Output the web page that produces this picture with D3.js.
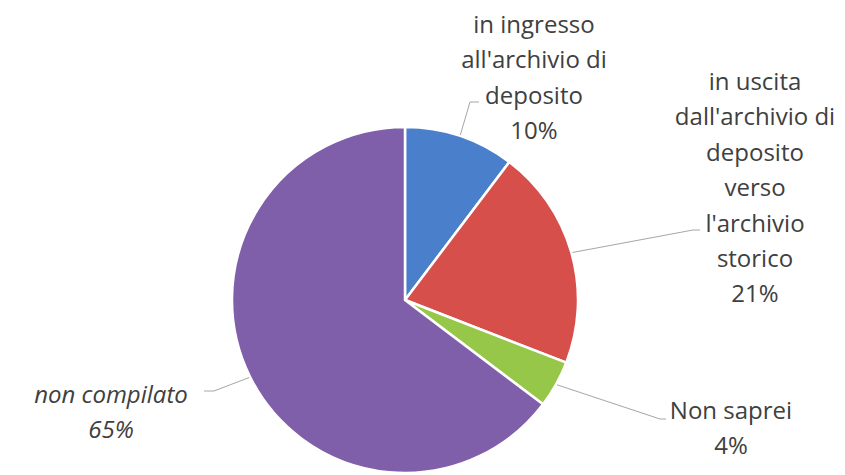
<!DOCTYPE html>
<html><head><meta charset="utf-8">
<script src="https://cdn.jsdelivr.net/npm/d3@7/dist/d3.min.js"></script>
<style>html,body{margin:0;padding:0;background:#fff;}svg{display:block;}</style>
</head><body>
<svg id="chart" width="845" height="475"></svg>
<script>
// Data
const categories = ["in ingresso all'archivio di deposito", "in uscita dall'archivio di deposito verso l'archivio storico", "Non saprei", "non compilato"];
const labelLines = [
  ["in ingresso", "all'archivio di", "deposito"],
  ["in uscita", "dall'archivio di", "deposito", "verso", "l'archivio", "storico"],
  ["Non saprei"],
  ["non compilato"]
];
const values = [10.3, 20.6, 4.4, 64.7];
const colors = ["#4a7fcb", "#d64f4b", "#97c748", "#7f5fa9"];

// Layout (label anchor positions and leader elbows)
const labelLayout = [
  {x: 534, y: 33, elbow: [470, 102], end: [479, 102], italic: false},
  {x: 755, y: 90, elbow: [693, 230], end: [700, 230], italic: false},
  {x: 731, y: 419, elbow: [660, 419], end: [666, 419], italic: false},
  {x: 111, y: 403, elbow: [214, 391], end: [204, 391], italic: true}
];

const svg = d3.select("#chart");
const cx = 405, cy = 300, r = 173;
const lineH = 35.4;

const pie = d3.pie().sort(null).value(d => d).startAngle(0).endAngle(2 * Math.PI);
const arcs = pie(values);
const arc = d3.arc().innerRadius(0).outerRadius(r);
const total = d3.sum(values);

const g = svg.append("g").attr("transform", `translate(${cx},${cy})`);
g.selectAll("path").data(arcs).enter().append("path")
  .attr("d", arc)
  .attr("fill", (d, i) => colors[i])
  .attr("stroke", "#fff")
  .attr("stroke-width", 2.5)
  .attr("stroke-linejoin", "round");

// Leader lines
const outerArc = d3.arc().innerRadius(r + 1).outerRadius(r + 1);
arcs.forEach((d, i) => {
  const c = outerArc.centroid(d);
  const L = labelLayout[i];
  svg.append("polyline")
    .attr("points", [[c[0] + cx, c[1] + cy], L.elbow, L.end].map(p => p.join(",")).join(" "))
    .attr("fill", "none")
    .attr("stroke", "#a6a6a6")
    .attr("stroke-width", 1);
});

// Labels
arcs.forEach((d, i) => {
  const L = labelLayout[i];
  const lines = labelLines[i].concat([d3.format(".0f")(d.value / total * 100) + "%"]);
  const t = svg.append("text")
    .attr("text-anchor", "middle")
    .attr("font-family", "'Open Sans', Lato, sans-serif")
    .attr("font-size", 24)
    .attr("font-style", L.italic ? "italic" : "normal")
    .attr("fill", "#404040");
  lines.forEach((s, k) => {
    t.append("tspan").attr("x", L.x).attr("y", L.y + k * lineH).text(s);
  });
});
</script>
</body></html>
